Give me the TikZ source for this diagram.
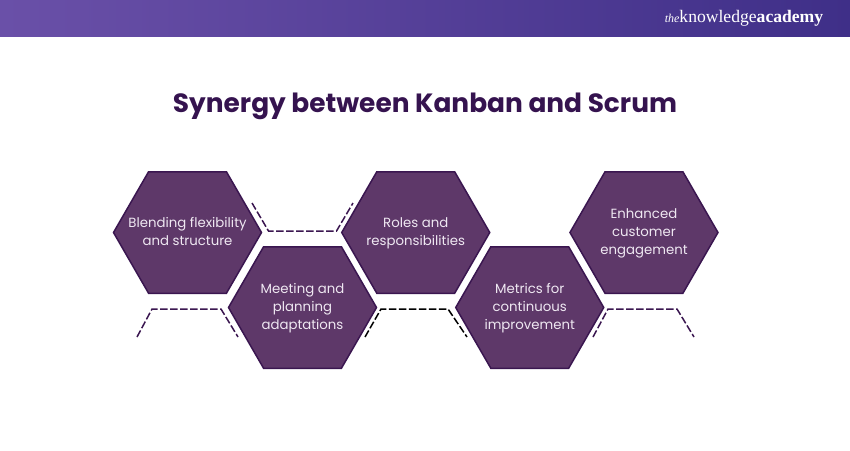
\documentclass[tikz,border=0pt]{standalone}
\usepackage{fontspec}
\setmainfont{Poppins}
\newfontfamily\logofont{Liberation Serif}
\usepackage{xcolor}
\definecolor{HexFill}{HTML}{5E3869}
\definecolor{HexEdge}{HTML}{3A1650}
\definecolor{TitleInk}{HTML}{35134F}
\definecolor{HexText}{HTML}{EFE8F2}
\definecolor{BarLeft}{HTML}{6A50A8}
\definecolor{BarRight}{HTML}{3F2F88}
\usetikzlibrary{positioning,shapes.symbols,calc}

\begin{document}
\begin{tikzpicture}[x=1pt,y=1pt,every node/.style={align=center}, hexbox/.style={draw=HexEdge, fill=HexFill, line width=1.5pt, shape=signal, signal to=east and west, signal pointer angle=120, minimum width=148pt, minimum height=121.5pt, inner sep=0pt}, hextext/.style={text=HexText, yshift=-1pt, font=\fontsize{13.3}{18}\selectfont}, dashlink/.style={line width=1.5pt, dash pattern=on 7.5pt off 2.5pt}]
        \useasboundingbox (0,-450) rectangle (850,0);
        \shade[left color=BarLeft, right color=BarRight] (0,-36) rectangle (850,0);

        \node[text=white, font=\logofont\fontsize{17.6}{18}\selectfont] (logo) at (744,-18) {{\itshape\fontsize{12}{12}\selectfont the}knowledge\textbf{academy}};
        \node[text=TitleInk, font=\fontsize{26.4}{32}\selectfont\bfseries] (title) at (425,-106.5) {Synergy between Kanban and Scrum};

        \node[hexbox, label={[hextext, yshift=2pt]center:Blending flexibility\\and structure}] (blend) at (187.5,-232.5) {};
        \node[hexbox, label={[hextext]center:Meeting and\\planning\\adaptations}] (meet) at ($(blend)+(115,-75)$) {};
        \node[hexbox, right=78.5pt of blend, label={[hextext]center:Roles and\\responsibilities}] (roles) {};
        \node[hexbox, label={[hextext]center:Metrics for\\continuous\\improvement}] (metrics) at ($(roles)+(114,-75)$) {};
        \node[hexbox, right=78.5pt of roles, label={[hextext]center:Enhanced\\customer\\engagement}] (engage) {};

        \coordinate (upA) at (252,-203);
        \coordinate (upB) at (353,-203);
        \coordinate (lowA) at (137,-337);
        \coordinate (lowB) at (238,-337);
        \coordinate (lowC) at (365,-337);
        \coordinate (lowD) at (467,-337);
        \coordinate (lowE) at (593,-337);
        \coordinate (lowF) at (694,-337);

        \draw[dashlink, HexEdge] (upA) -- ++(16.5,-28) -- ++(68,0) -- (upB);
        \draw[dashlink, HexEdge] (lowA) -- ++(15,28) -- ++(69,0) -- (lowB);
        \draw[dashlink, black] (lowC) -- ++(16,28) -- ++(67,0) -- (lowD);
        \draw[dashlink, HexEdge] (lowE) -- ++(15,28) -- ++(69,0) -- (lowF);
    \end{tikzpicture}
\end{document}
